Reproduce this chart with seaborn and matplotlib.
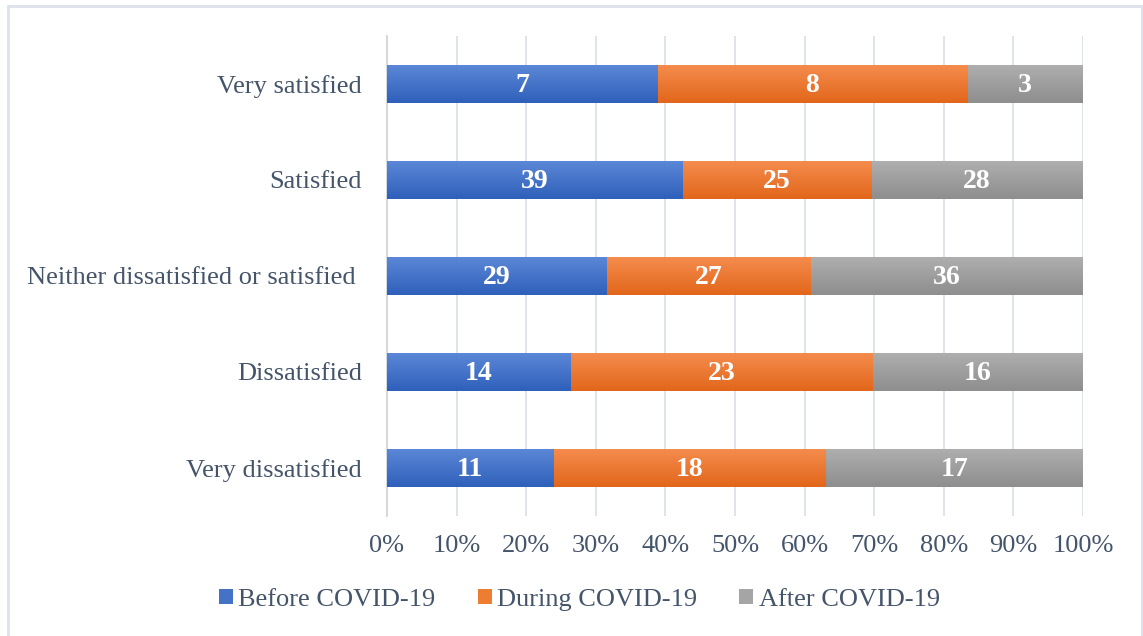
import numpy as np
import pandas as pd
import matplotlib
matplotlib.use("Agg")
import matplotlib.pyplot as plt
import seaborn as sns
from matplotlib.colors import LinearSegmentedColormap
from matplotlib.patches import Patch, Rectangle

categories = ["Very satisfied", "Satisfied", "Neither dissatisfied or satisfied ",
              "Dissatisfied", "Very dissatisfied"]
before = [7, 39, 29, 14, 11]
during = [8, 25, 27, 23, 18]
after = [3, 28, 36, 16, 17]
series_names = ["Before COVID-19", "During COVID-19", "After COVID-19"]
tick_values = [0, 10, 20, 30, 40, 50, 60, 70, 80, 90, 100]

# (top, bottom) gradient colours of each series
grad = {
    "Before COVID-19": ("#5D88D8", "#2F60BA"),
    "During COVID-19": ("#F58D4E", "#E2661B"),
    "After COVID-19": ("#AFAFAF", "#8E8E8E"),
}
mid = {"Before COVID-19": "#4472C4", "During COVID-19": "#ED7D31", "After COVID-19": "#A5A5A5"}
text_col = "#44546A"
fs = 19

df = pd.DataFrame({"category": categories, "Before COVID-19": before,
                   "During COVID-19": during, "After COVID-19": after})
total = df[series_names].sum(axis=1)
pct = df[series_names].div(total, axis=0) * 100
cum = pct.cumsum(axis=1)

sns.set_theme(style="white")
plt.rcParams["font.family"] = ["Liberation Serif", "DejaVu Serif"]

fig = plt.figure(figsize=(11.43, 6.36), dpi=100)
ax = fig.add_axes([387 / 1143, 1 - 516 / 636, 696 / 1143, 480 / 636])

# stacked bars: draw cumulative extents from the widest to the narrowest
for z, name in enumerate(reversed(series_names)):
    n_before = len(ax.patches)
    sns.barplot(x=cum[name].values, y=df["category"], order=categories,
                color=mid[name], orient="h", width=0.4, ax=ax,
                saturation=1, zorder=2 + z, linewidth=0)
    cmap = LinearSegmentedColormap.from_list(name, [grad[name][0], grad[name][1]])
    for p in ax.patches[n_before:]:
        x0, y0 = p.get_x(), p.get_y()
        w, h = p.get_width(), p.get_height()
        im = ax.imshow(np.linspace(0, 1, 64).reshape(-1, 1), cmap=cmap, aspect="auto",
                       extent=(x0, x0 + w, y0 + h, y0), zorder=2 + z + 0.5,
                       interpolation="bicubic")
        im.set_clip_path(p)

# value labels centred in each segment
for name in series_names:
    centers = cum[name] - pct[name] / 2
    for i, (c, v) in enumerate(zip(centers, df[name])):
        ax.text(c, i + 0.02, str(v), ha="center", va="center", color="white",
                fontsize=20, fontweight="bold", zorder=10)

ax.set_xlim(0, 100)
ax.set_ylim(len(categories) - 0.5, -0.5)
ax.set_xticks(tick_values)
ax.set_xticklabels([f"{t}%" for t in tick_values])
ax.xaxis.grid(True, color="#DCE1E8", linewidth=1.3, zorder=0)
ax.yaxis.grid(False)
ax.set_axisbelow(True)
for s in ["top", "right", "bottom"]:
    ax.spines[s].set_visible(False)
ax.spines["left"].set_color("#D0D5DC")
ax.spines["left"].set_linewidth(1.3)
ax.set_xlabel("")
ax.set_ylabel("")
ax.tick_params(axis="both", length=0, labelsize=fs, labelcolor=text_col)
ax.tick_params(axis="y", pad=18)
ax.tick_params(axis="x", pad=14)

handles = [Patch(facecolor=mid[n], edgecolor="none") for n in series_names]
fig.legend(handles, series_names, loc="center", bbox_to_anchor=(0.507, 1 - 600 / 636),
           ncol=3, frameon=False, fontsize=fs, labelcolor=text_col,
           handlelength=0.53, handleheight=0.53, handletextpad=0.2, columnspacing=1.6)

# light outer frame around the chart
fig.patches.append(Rectangle((8 / 1143, -0.01), (1142 - 8) / 1143, 1 - 6 / 636 + 0.01,
                             transform=fig.transFigure, fill=False,
                             edgecolor="#DDE2EA", linewidth=2))

fig.savefig("out.png", dpi=100)
